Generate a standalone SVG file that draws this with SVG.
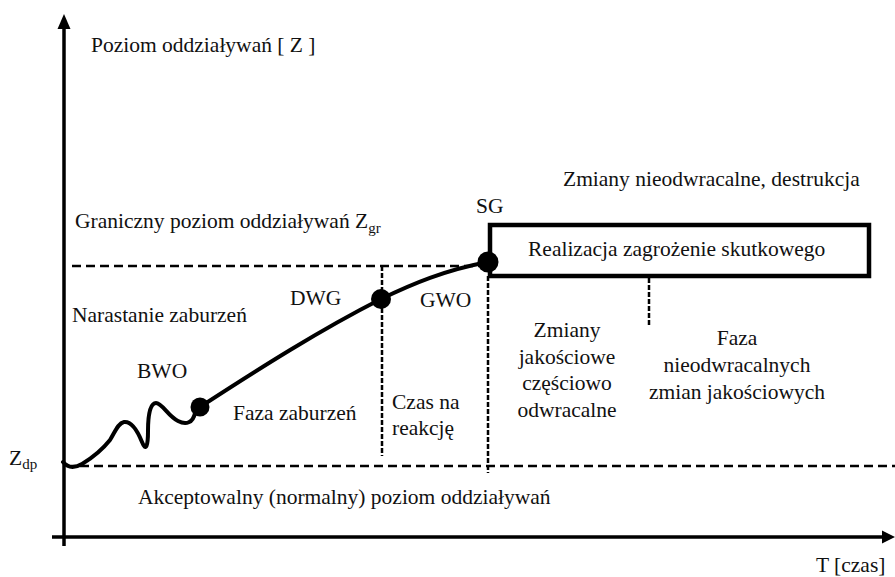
<svg xmlns="http://www.w3.org/2000/svg" width="895" height="577" viewBox="0 0 895 577">
<style>
text{font-family:"Liberation Serif","Times New Roman",serif;font-size:21.5px;fill:#111}
.sub{font-size:15px}
.axis{stroke:#000;stroke-width:3.5;fill:none}
.dash{stroke:#000;stroke-width:2.5;stroke-dasharray:9 5;fill:none}
.dot{stroke:#000;stroke-width:2.5;stroke-dasharray:5 2;fill:none}
.curve{stroke:#000;stroke-width:4;fill:none;stroke-linecap:round;stroke-linejoin:round}
.pt{fill:#000}
.mid{text-anchor:middle}
</style>
<rect width="895" height="577" fill="#fff"/>
<g id="axes">
<line class="axis" x1="64" y1="26" x2="64" y2="546"/>
<polygon points="64,14 57.5,29 70.5,29" fill="#000"/>
<line class="axis" x1="52" y1="537" x2="884" y2="537"/>
<polygon points="895,537 882,530.5 882,543.5" fill="#000"/>
<text x="91" y="52">Poziom oddziaływań [ Z ]</text>
<text x="816" y="572">T [czas]</text>
</g>
<g id="connectors">
<line class="dash" x1="72" y1="266" x2="482" y2="266"/>
<line class="dash" x1="80" y1="466" x2="895" y2="466"/>
<line class="dot" x1="382" y1="266" x2="382" y2="456"/>
<line class="dot" x1="488" y1="276" x2="488" y2="473"/>
<line class="dot" x1="649" y1="278" x2="649" y2="325"/>
<path class="curve" d="M63,462 C68,468 75,468 82,464 C92,458 102,450 110,440 C115,432 118,423 124,422 C132,421 138,432 142,442 C146,452 148,446 148,431 C148,416 150,403 156,403 C162,403 168,416 178,421 C186,425 193,423 195,413 L200,407 C260,368 320,330 381,299 C412,284 445,270 488,262"/>
</g>
<g id="node-bwo">
<circle class="pt" cx="200" cy="407" r="9.5"/>
<text x="137" y="378">BWO</text>
</g>
<g id="node-dwg">
<circle class="pt" cx="381" cy="299" r="10"/>
<text x="290" y="305">DWG</text>
</g>
<g id="node-sg">
<circle class="pt" cx="488" cy="262" r="10.5"/>
<text x="476" y="213">SG</text>
</g>
<g id="node-box">
<rect x="490" y="225" width="379" height="51" fill="none" stroke="#000" stroke-width="4.5"/>
<text x="528" y="256">Realizacja zagrożenie skutkowego</text>
</g>
<g id="labels">
<text x="563" y="186">Zmiany nieodwracalne, destrukcja</text>
<text x="75" y="228">Graniczny poziom oddziaływań Z<tspan class="sub" dy="5">gr</tspan></text>
<text x="72" y="322">Narastanie zaburzeń</text>
<text x="420" y="307">GWO</text>
<text x="233" y="420">Faza zaburzeń</text>
<text x="392" y="409">Czas na</text>
<text x="392" y="435">reakcję</text>
<text class="mid" x="567" y="337">Zmiany</text>
<text class="mid" x="567" y="364">jakościowe</text>
<text class="mid" x="567" y="390">częściowo</text>
<text class="mid" x="567" y="417">odwracalne</text>
<text class="mid" x="737" y="345">Faza</text>
<text class="mid" x="737" y="372">nieodwracalnych</text>
<text class="mid" x="737" y="399">zmian jakościowych</text>
<text x="9" y="465">Z<tspan class="sub" dy="4">dp</tspan></text>
<text x="138" y="504">Akceptowalny (normalny) poziom oddziaływań</text>
</g>
</svg>
